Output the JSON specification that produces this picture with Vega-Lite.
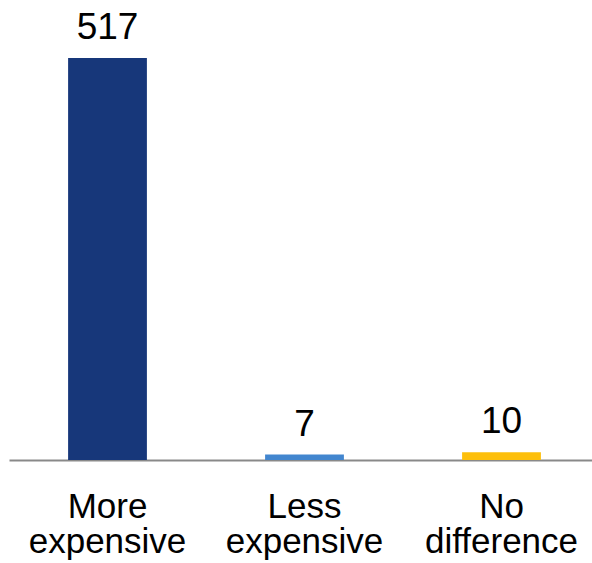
{
  "$schema": "https://vega.github.io/schema/vega-lite/v6.json",
  "autosize": "none",
  "width": 591,
  "height": 402,
  "padding": {"left": 9, "top": 58, "right": 0, "bottom": 103},
  "background": "white",
  "config": {"view": {"stroke": null}, "font": "Liberation Sans"},
  "data": {"values": [
    {"label": "More expensive", "value": 517, "color": "#17377A"},
    {"label": "Less expensive", "value": 7, "color": "#4286CF"},
    {"label": "No difference", "value": 10, "color": "#FDBF0B"}
  ]},
  "encoding": {
    "x": {"field": "label", "type": "nominal", "sort": null,
      "scale": {"paddingInner": 0.6, "paddingOuter": 0.3},
      "axis": {"title": null, "labelAngle": 0, "ticks": false, "domainColor": "#898989", "domainWidth": 2,
        "labelFont": "Liberation Sans", "labelFontSize": 35, "labelColor": "#000000",
        "labelPadding": 29, "labelLineHeight": 35, "labelExpr": "split(datum.label, ' ')", "labelBaseline": "top"}},
    "y": {"field": "value", "type": "quantitative", "scale": {"domain": [0, 517], "nice": false, "zero": true}, "axis": null}
  },
  "layer": [
    {"mark": {"type": "bar"}, "encoding": {"color": {"field": "color", "type": "nominal", "scale": null}}},
    {"mark": {"type": "text", "baseline": "alphabetic", "dy": -19, "fontSize": 37, "font": "Liberation Sans", "color": "#000000"},
      "encoding": {"text": {"field": "value", "type": "quantitative"}}}
  ]
}
